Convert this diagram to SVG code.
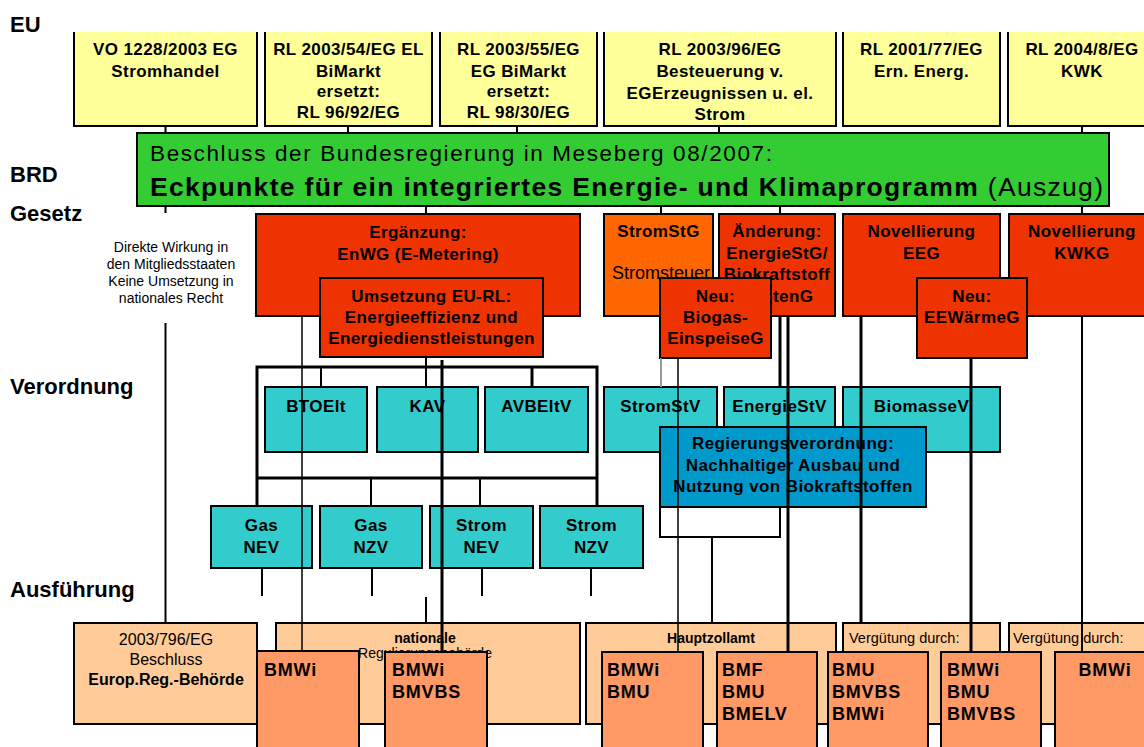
<svg xmlns="http://www.w3.org/2000/svg" width="1144" height="747" viewBox="0 0 1144 747">
<style>
text{font-family:"Liberation Sans",Arial,Helvetica,sans-serif;fill:#000}
.lbl{font-size:22px;font-weight:bold}
.t{font-size:17px;font-weight:bold;letter-spacing:0.4px;text-anchor:middle}
.r{font-size:14px;text-anchor:middle}
.p{font-size:16px;text-anchor:middle}
.bm{font-size:18px;font-weight:bold;letter-spacing:0.8px}
.ed{stroke:#000;stroke-width:2;fill:none}
.bx{stroke:#000;stroke-width:2}
.y{fill:#ffff99}
.green{fill:#33cc33}
.red{fill:#ee3300}
.org{fill:#ff6600}
.teal{fill:#33cccc}
.blue{fill:#0099cc}
.peach{fill:#ffcc99}
.salm{fill:#ff9966}
#connectors path{stroke:#000;stroke-width:2;fill:none}
#connectors .thin{stroke-width:1.5}
#connectors .thick{stroke-width:3}
#connectors .grey{stroke:#999}
</style>
<rect width="1144" height="747" fill="#fff"/>

<g id="labels">
<text class="lbl" x="10" y="32">EU</text>
<text class="lbl" x="10" y="182">BRD</text>
<text class="lbl" x="10" y="221">Gesetz</text>
<text class="lbl" x="10" y="394">Verordnung</text>
<text class="lbl" x="10" y="597">Ausführung</text>
<text class="r"><tspan x="171" y="252">Direkte Wirkung in</tspan><tspan x="171" y="269">den Mitgliedsstaaten</tspan><tspan x="171" y="286">Keine Umsetzung in</tspan><tspan x="171" y="303">nationales Recht</tspan></text>
</g>

<g id="eu-vo1228">
<rect class="y" x="74" y="32" width="183" height="94"/><path class="ed" d="M74,32V126H257V32"/>
<text class="t"><tspan x="165.5" y="55">VO 1228/2003 EG</tspan><tspan x="165.5" y="77">Stromhandel</tspan></text>
</g>
<g id="eu-rl2003-54">
<rect class="y" x="265" y="32" width="167" height="94"/><path class="ed" d="M265,32V126H432V32"/>
<text class="t"><tspan x="348.5" y="55">RL 2003/54/EG EL</tspan><tspan x="348.5" y="77">BiMarkt</tspan><tspan x="348.5" y="97">ersetzt:</tspan><tspan x="348.5" y="118">RL 96/92/EG</tspan></text>
</g>
<g id="eu-rl2003-55">
<rect class="y" x="440" y="32" width="157" height="94"/><path class="ed" d="M440,32V126H597V32"/>
<text class="t"><tspan x="518.5" y="55">RL 2003/55/EG</tspan><tspan x="518.5" y="77">EG BiMarkt</tspan><tspan x="518.5" y="97">ersetzt:</tspan><tspan x="518.5" y="118">RL 98/30/EG</tspan></text>
</g>
<g id="eu-rl2003-96">
<rect class="y" x="604" y="32" width="232" height="94"/><path class="ed" d="M604,32V126H836V32"/>
<text class="t"><tspan x="720" y="55">RL 2003/96/EG</tspan><tspan x="720" y="77">Besteuerung v.</tspan><tspan x="720" y="99">EGErzeugnissen u. el.</tspan><tspan x="720" y="120">Strom</tspan></text>
</g>
<g id="eu-rl2001-77">
<rect class="y" x="843" y="32" width="157" height="94"/><path class="ed" d="M843,32V126H1000V32"/>
<text class="t"><tspan x="921.5" y="55">RL 2001/77/EG</tspan><tspan x="921.5" y="77">Ern. Energ.</tspan></text>
</g>
<g id="eu-rl2004-8">
<rect class="y" x="1008" y="32" width="150" height="94"/><path class="ed" d="M1008,32V126H1158"/>
<text class="t"><tspan x="1082" y="55">RL 2004/8/EG</tspan><tspan x="1082" y="77">KWK</tspan></text>
</g>

<g id="meseberg">
<rect class="green bx" x="137" y="133" width="972" height="73"/>
<text x="150" y="161" font-size="22.5" textLength="622">Beschluss der Bundesregierung in Meseberg 08/2007:</text>
<text x="150" y="196" font-size="26.5" textLength="953"><tspan font-weight="bold">Eckpunkte für ein integriertes Energie- und Klimaprogramm</tspan> (Auszug)</text>
</g>

<g id="enwg">
<rect class="red bx" x="256" y="214" width="324" height="102"/>
<text class="t"><tspan x="418" y="238">Ergänzung:</tspan><tspan x="418" y="260">EnWG (E-Metering)</tspan></text>
</g>
<g id="stromstg">
<rect class="org bx" x="604" y="214" width="109" height="102"/>
<text class="t"><tspan x="658.5" y="237">StromStG</tspan></text>
<text x="661" y="279" font-size="18" text-anchor="middle">Stromsteuer</text>
</g>
<g id="aenderung">
<rect class="red bx" x="719" y="214" width="116" height="102"/>
<text class="t"><tspan x="777" y="237">Änderung:</tspan><tspan x="777" y="259">EnergieStG/</tspan><tspan x="777" y="280">Biokraftstoff</tspan><tspan x="777" y="302">quotenG</tspan></text>
</g>
<g id="eeg">
<rect class="red bx" x="843" y="214" width="157" height="102"/>
<text class="t"><tspan x="921.5" y="237">Novellierung</tspan><tspan x="921.5" y="259">EEG</tspan></text>
</g>
<g id="kwkg">
<rect class="red bx" x="1009" y="214" width="150" height="102"/>
<text class="t"><tspan x="1082" y="237">Novellierung</tspan><tspan x="1082" y="259">KWKG</tspan></text>
</g>
<g id="umsetzung">
<rect class="red bx" x="320" y="278" width="223" height="79"/>
<text class="t"><tspan x="431.5" y="302">Umsetzung EU-RL:</tspan><tspan x="431.5" y="323">Energieeffizienz und</tspan><tspan x="431.5" y="344">Energiedienstleistungen</tspan></text>
</g>
<g id="biogas">
<rect class="red bx" x="660" y="278" width="111" height="80"/>
<text class="t"><tspan x="715.5" y="302">Neu:</tspan><tspan x="715.5" y="323">Biogas-</tspan><tspan x="715.5" y="344">EinspeiseG</tspan></text>
</g>
<g id="eewaerme">
<rect class="red bx" x="917" y="278" width="110" height="80"/>
<text class="t"><tspan x="972" y="302">Neu:</tspan><tspan x="972" y="323">EEWärmeG</tspan></text>
</g>

<g id="btoelt"><rect class="teal bx" x="265" y="387" width="102" height="65"/><text class="t" x="316" y="412">BTOElt</text></g>
<g id="kav"><rect class="teal bx" x="377" y="387" width="101" height="65"/><text class="t" x="427.5" y="412">KAV</text></g>
<g id="avbeltv"><rect class="teal bx" x="485" y="387" width="103" height="65"/><text class="t" x="536.5" y="412">AVBEltV</text></g>
<g id="stromstv"><rect class="teal bx" x="604" y="387" width="113" height="65"/><text class="t" x="660.5" y="412">StromStV</text></g>
<g id="energiestv"><rect class="teal bx" x="724" y="387" width="111" height="65"/><text class="t" x="779.5" y="412">EnergieStV</text></g>
<g id="biomassev"><rect class="teal bx" x="843" y="387" width="157" height="65"/><text class="t" x="921.5" y="412">BiomasseV</text></g>
<g id="regvo">
<rect class="blue bx" x="660" y="427" width="266" height="80"/>
<text class="t"><tspan x="793" y="449">Regierungsverordnung:</tspan><tspan x="793" y="471">Nachhaltiger Ausbau und</tspan><tspan x="793" y="492">Nutzung von Biokraftstoffen</tspan></text>
</g>

<g id="gasnev"><rect class="teal bx" x="211" y="506" width="101" height="62"/><text class="t"><tspan x="261.5" y="531">Gas</tspan><tspan x="261.5" y="553">NEV</tspan></text></g>
<g id="gasnzv"><rect class="teal bx" x="320" y="506" width="102" height="62"/><text class="t"><tspan x="371" y="531">Gas</tspan><tspan x="371" y="553">NZV</tspan></text></g>
<g id="stromnev"><rect class="teal bx" x="430" y="506" width="103" height="62"/><text class="t"><tspan x="481.5" y="531">Strom</tspan><tspan x="481.5" y="553">NEV</tspan></text></g>
<g id="stromnzv"><rect class="teal bx" x="540" y="506" width="103" height="62"/><text class="t"><tspan x="591.5" y="531">Strom</tspan><tspan x="591.5" y="553">NZV</tspan></text></g>

<g id="europ">
<rect class="peach bx" x="74" y="623" width="183" height="101"/>
<text class="p"><tspan x="166" y="645">2003/796/EG</tspan><tspan x="166" y="665">Beschluss</tspan><tspan x="166" y="685" font-weight="bold">Europ.Reg.-Behörde</tspan></text>
</g>
<g id="nationale">
<rect class="peach bx" x="276" y="623" width="304" height="101"/>
<text class="r"><tspan x="425" y="643" font-weight="bold">nationale</tspan><tspan x="425" y="658">Regulierungsbehörde</tspan></text>
</g>
<g id="hauptzollamt">
<rect class="peach bx" x="586" y="623" width="250" height="101"/>
<text class="r" x="711" y="643" font-weight="bold" font-size="14.5">Hauptzollamt</text>
</g>
<g id="verguetung1">
<rect class="peach bx" x="843" y="623" width="157" height="101"/>
<text x="849" y="643" font-size="14.5">Vergütung durch:</text>
</g>
<g id="verguetung2">
<rect class="peach bx" x="1009" y="623" width="150" height="101"/>
<text x="1013" y="643" font-size="14.5">Vergütung durch:</text>
</g>

<g id="connectors">
<path d="M165.5,126V133M348,126V133M517,126V133M719,126V133M1082,126V133"/>
<path d="M165.5,206V213M426,206V214M661,206V214M780,206V214M1082,206V214"/>
<path d="M165.5,323V623"/>
<path class="thin" d="M302,316V652"/>
<path d="M426,357V387M426,597V623"/>
<path class="thick" d="M442,360V652"/>
<path class="thick" d="M257,506V367H597V506M257,478H597"/>
<path d="M321,367V387"/>
<path class="thick" d="M532,367V387"/>
<path d="M371,478V506M480,478V506"/>
<path d="M262,568V596M372,568V596M482,568V596M591,568V596"/>
<path class="grey" d="M661,358V387"/>
<path class="thin" d="M678,358V652"/>
<path class="thick" d="M780,316V387"/>
<path class="thick" d="M788,316V652"/>
<path d="M660,507V537H780V507M712,537V623"/>
<path class="thick" d="M861,316V623"/>
<path class="thick" d="M971,358V652"/>
<path d="M1082,316V652"/>
</g>

<g id="bmwi-1"><rect class="salm bx" x="257" y="651" width="102" height="110"/><text class="bm" x="264" y="676">BMWi</text></g>
<g id="bmwi-bmvbs"><rect class="salm bx" x="385" y="652" width="102" height="110"/><text class="bm"><tspan x="392" y="676">BMWi</tspan><tspan x="392" y="698">BMVBS</tspan></text></g>
<g id="bmwi-bmu"><rect class="salm bx" x="602" y="652" width="101" height="110"/><text class="bm"><tspan x="607" y="676">BMWi</tspan><tspan x="607" y="698">BMU</tspan></text></g>
<g id="bmf-bmu-bmelv"><rect class="salm bx" x="717" y="652" width="100" height="110"/><text class="bm"><tspan x="722" y="676">BMF</tspan><tspan x="722" y="698">BMU</tspan><tspan x="722" y="720">BMELV</tspan></text></g>
<g id="bmu-bmvbs-bmwi"><rect class="salm bx" x="828" y="652" width="100" height="110"/><text class="bm"><tspan x="832" y="676">BMU</tspan><tspan x="832" y="698">BMVBS</tspan><tspan x="832" y="720">BMWi</tspan></text></g>
<g id="bmwi-bmu-bmvbs"><rect class="salm bx" x="941" y="652" width="100" height="110"/><text class="bm"><tspan x="947" y="676">BMWi</tspan><tspan x="947" y="698">BMU</tspan><tspan x="947" y="720">BMVBS</tspan></text></g>
<g id="bmwi-2"><rect class="salm bx" x="1055" y="652" width="105" height="110"/><text class="bm" x="1105" y="676" text-anchor="middle">BMWi</text></g>
</svg>
